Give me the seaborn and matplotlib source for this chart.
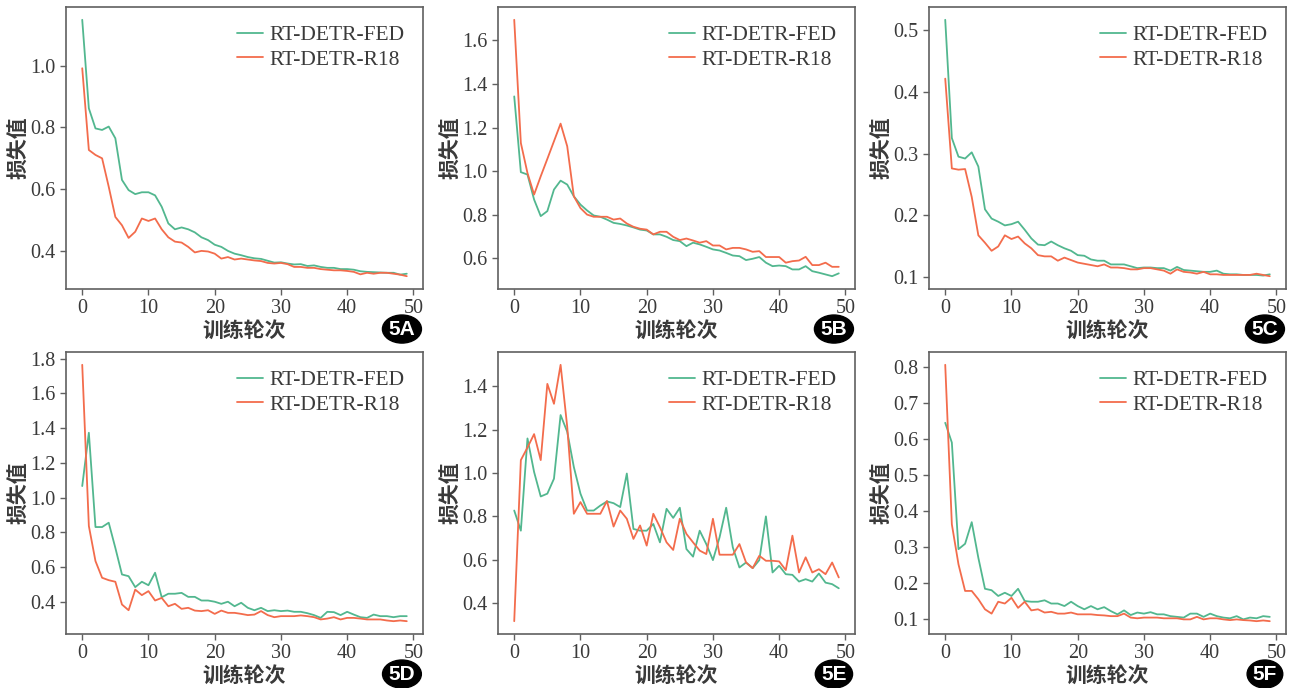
import seaborn as sns
import matplotlib.pyplot as plt
import pandas as pd

# epochs 0..49
epochs = list(range(50))

# 5A
fed_a = [1.149, 0.862, 0.797, 0.792, 0.803, 0.765, 0.630, 0.597, 0.584, 0.590,
         0.590, 0.580, 0.543, 0.489, 0.470, 0.476, 0.470, 0.460, 0.444, 0.435,
         0.420, 0.413, 0.400, 0.391, 0.386, 0.380, 0.376, 0.374, 0.368, 0.362,
         0.363, 0.359, 0.356, 0.357, 0.351, 0.353, 0.348, 0.345, 0.345, 0.341,
         0.341, 0.339, 0.334, 0.332, 0.331, 0.330, 0.329, 0.329, 0.323, 0.326]
r18_a = [0.992, 0.727, 0.711, 0.700, 0.608, 0.510, 0.483, 0.442, 0.462, 0.505,
         0.497, 0.505, 0.470, 0.444, 0.430, 0.427, 0.413, 0.395, 0.400, 0.398,
         0.391, 0.375, 0.380, 0.372, 0.375, 0.372, 0.369, 0.367, 0.361, 0.359,
         0.361, 0.357, 0.348, 0.348, 0.345, 0.345, 0.341, 0.339, 0.337, 0.337,
         0.335, 0.332, 0.324, 0.329, 0.326, 0.329, 0.329, 0.326, 0.323, 0.318]

# 5B
fed_b = [1.343, 0.995, 0.984, 0.869, 0.793, 0.816, 0.915, 0.956, 0.938, 0.884,
         0.846, 0.819, 0.796, 0.790, 0.777, 0.762, 0.757, 0.750, 0.741, 0.731,
         0.727, 0.709, 0.709, 0.698, 0.683, 0.678, 0.655, 0.671, 0.663, 0.652,
         0.640, 0.635, 0.624, 0.612, 0.609, 0.591, 0.597, 0.605, 0.579, 0.563,
         0.566, 0.563, 0.548, 0.548, 0.563, 0.540, 0.533, 0.525, 0.517, 0.530]
r18_b = [1.695, 1.129, 0.991, 0.892, 0.976, 1.056, 1.137, 1.218, 1.114, 0.884,
         0.830, 0.800, 0.790, 0.790, 0.790, 0.777, 0.782, 0.759, 0.744, 0.735,
         0.731, 0.709, 0.721, 0.721, 0.698, 0.683, 0.690, 0.681, 0.671, 0.678,
         0.658, 0.658, 0.640, 0.647, 0.647, 0.640, 0.629, 0.632, 0.605, 0.605,
         0.605, 0.579, 0.586, 0.589, 0.606, 0.568, 0.568, 0.579, 0.560, 0.560]

# 5C
fed_c = [0.516, 0.325, 0.295, 0.292, 0.302, 0.279, 0.210, 0.195, 0.190, 0.184,
         0.186, 0.190, 0.177, 0.163, 0.153, 0.152, 0.158, 0.152, 0.147, 0.143,
         0.136, 0.135, 0.129, 0.127, 0.127, 0.121, 0.121, 0.121, 0.118, 0.115,
         0.116, 0.116, 0.115, 0.115, 0.111, 0.117, 0.112, 0.111, 0.110, 0.109,
         0.109, 0.111, 0.106, 0.105, 0.105, 0.104, 0.104, 0.104, 0.103, 0.105]
r18_c = [0.421, 0.276, 0.274, 0.275, 0.230, 0.168, 0.156, 0.143, 0.150, 0.168,
         0.162, 0.166, 0.155, 0.147, 0.136, 0.134, 0.134, 0.127, 0.132, 0.128,
         0.124, 0.122, 0.120, 0.118, 0.121, 0.116, 0.116, 0.115, 0.113, 0.113,
         0.115, 0.115, 0.113, 0.111, 0.106, 0.113, 0.109, 0.108, 0.106, 0.109,
         0.105, 0.105, 0.104, 0.104, 0.104, 0.104, 0.104, 0.106, 0.104, 0.102]

# 5D
fed_d = [1.066, 1.373, 0.830, 0.830, 0.855, 0.710, 0.557, 0.547, 0.484, 0.515,
         0.495, 0.567, 0.426, 0.446, 0.446, 0.451, 0.428, 0.428, 0.407, 0.407,
         0.400, 0.388, 0.400, 0.374, 0.394, 0.365, 0.351, 0.365, 0.346, 0.351,
         0.346, 0.349, 0.342, 0.342, 0.334, 0.323, 0.307, 0.342, 0.340, 0.323,
         0.342, 0.326, 0.311, 0.307, 0.326, 0.317, 0.317, 0.311, 0.317, 0.317]
r18_d = [1.764, 0.836, 0.634, 0.538, 0.524, 0.515, 0.384, 0.351, 0.470, 0.438,
         0.461, 0.407, 0.422, 0.374, 0.388, 0.359, 0.365, 0.349, 0.346, 0.351,
         0.330, 0.349, 0.336, 0.336, 0.330, 0.323, 0.326, 0.346, 0.323, 0.311,
         0.317, 0.317, 0.317, 0.321, 0.317, 0.311, 0.298, 0.303, 0.311, 0.298,
         0.307, 0.307, 0.303, 0.298, 0.298, 0.298, 0.292, 0.288, 0.292, 0.288]

# 5E
fed_e = [0.827, 0.734, 1.160, 1.005, 0.892, 0.905, 0.974, 1.268, 1.191, 1.028,
         0.905, 0.827, 0.827, 0.850, 0.869, 0.861, 0.843, 0.998, 0.742, 0.734,
         0.734, 0.765, 0.680, 0.835, 0.793, 0.840, 0.649, 0.614, 0.734, 0.672,
         0.598, 0.703, 0.840, 0.657, 0.564, 0.587, 0.561, 0.598, 0.800, 0.541,
         0.572, 0.533, 0.530, 0.499, 0.510, 0.499, 0.536, 0.494, 0.487, 0.468]
r18_e = [0.316, 1.060, 1.118, 1.180, 1.060, 1.412, 1.320, 1.500, 1.214, 0.812,
         0.866, 0.812, 0.812, 0.812, 0.871, 0.753, 0.827, 0.789, 0.696, 0.758,
         0.665, 0.812, 0.750, 0.680, 0.645, 0.789, 0.719, 0.680, 0.642, 0.626,
         0.789, 0.623, 0.623, 0.623, 0.672, 0.587, 0.561, 0.618, 0.595, 0.595,
         0.592, 0.552, 0.711, 0.541, 0.611, 0.541, 0.556, 0.533, 0.587, 0.518]

# 5F
fed_f = [0.645, 0.590, 0.294, 0.309, 0.369, 0.270, 0.184, 0.180, 0.164, 0.173,
         0.164, 0.184, 0.150, 0.148, 0.148, 0.152, 0.143, 0.143, 0.136, 0.148,
         0.136, 0.127, 0.136, 0.127, 0.133, 0.122, 0.113, 0.124, 0.111, 0.118,
         0.115, 0.119, 0.113, 0.113, 0.108, 0.106, 0.104, 0.115, 0.115, 0.106,
         0.115, 0.108, 0.104, 0.102, 0.108, 0.099, 0.104, 0.102, 0.108, 0.106]
r18_f = [0.806, 0.363, 0.252, 0.178, 0.178, 0.155, 0.127, 0.115, 0.148, 0.143,
         0.159, 0.131, 0.148, 0.124, 0.127, 0.118, 0.120, 0.115, 0.115, 0.118,
         0.113, 0.113, 0.113, 0.111, 0.110, 0.108, 0.108, 0.115, 0.104, 0.102,
         0.104, 0.104, 0.104, 0.102, 0.102, 0.102, 0.099, 0.099, 0.106, 0.099,
         0.102, 0.102, 0.099, 0.097, 0.099, 0.097, 0.096, 0.094, 0.096, 0.094]

panel_tags = ["5A", "5B", "5C", "5D", "5E", "5F"]
fed_series = [fed_a, fed_b, fed_c, fed_d, fed_e, fed_f]
r18_series = [r18_a, r18_b, r18_c, r18_d, r18_e, r18_f]
yticks_list = [
    [0.4, 0.6, 0.8, 1.0],
    [0.6, 0.8, 1.0, 1.2, 1.4, 1.6],
    [0.1, 0.2, 0.3, 0.4, 0.5],
    [0.4, 0.6, 0.8, 1.0, 1.2, 1.4, 1.6, 1.8],
    [0.4, 0.6, 0.8, 1.0, 1.2, 1.4],
    [0.1, 0.2, 0.3, 0.4, 0.5, 0.6, 0.7, 0.8],
]
xticks = [0, 10, 20, 30, 40, 50]

sns.set_style("ticks")
plt.rcParams['font.family'] = ['Liberation Serif', 'Noto Sans CJK SC', 'DejaVu Sans']

green = "#52b78f"
red = "#f36c4c"
spine_col = "#606060"
text_col = "#3a3a3a"
cjk = ['Noto Sans CJK SC', 'DejaVu Sans']

fig = plt.figure(figsize=(12.96, 6.88), dpi=100)
lefts = [66, 498, 929]
tops = [7, 352]
w_px, h_px = 357, 282

for i in range(6):
    row, col = divmod(i, 3)
    ax = fig.add_axes([lefts[col] / 1296, 1 - (tops[row] + h_px) / 688,
                       w_px / 1296, h_px / 688])
    df = pd.DataFrame({"epoch": epochs, "fed": fed_series[i], "r18": r18_series[i]})
    sns.lineplot(data=df, x="epoch", y="fed", ax=ax, color=green, lw=1.3,
                 label="RT-DETR-FED")
    sns.lineplot(data=df, x="epoch", y="r18", ax=ax, color=red, lw=1.3,
                 label="RT-DETR-R18")
    ax.set_xticks(xticks)
    ax.set_yticks(yticks_list[i])
    ax.set_yticklabels([f"{v:.1f}" for v in yticks_list[i]])
    ax.tick_params(labelsize=14.5, length=4.5, width=1, color=spine_col,
                   labelcolor=text_col, pad=3)
    for s in ax.spines.values():
        s.set_color(spine_col)
        s.set_linewidth(1.2)
    ax.set_xlabel("训练轮次", family=cjk, fontsize=15, fontweight="bold",
                  color=text_col, labelpad=1)
    ax.set_ylabel("损失值", family=cjk, fontsize=15, fontweight="bold",
                  color=text_col, labelpad=1)
    ax.legend(loc="upper right", frameon=False, fontsize=15.5, handlelength=1.2,
              handletextpad=0.3, labelspacing=0.2, borderaxespad=0.45,
              labelcolor=text_col)
    ax.text(0.941, -0.142, panel_tags[i], transform=ax.transAxes, ha="center",
            va="center", color="white", fontsize=15, fontweight="bold",
            family=['Liberation Sans', 'DejaVu Sans'],
            bbox=dict(boxstyle="ellipse,pad=0.02", fc="black", ec="black"))

fig.savefig("out.png", dpi=100)
